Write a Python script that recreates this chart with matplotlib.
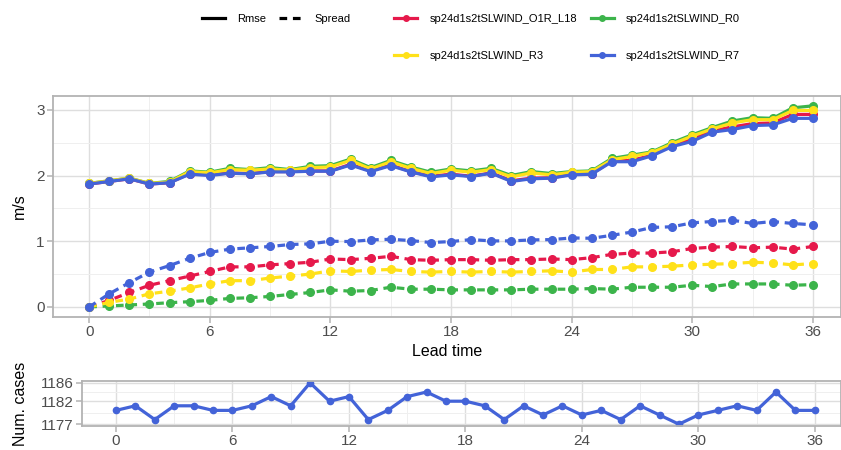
import numpy as np
import matplotlib
matplotlib.use("Agg")
import matplotlib.pyplot as plt
from matplotlib.lines import Line2D

plt.rcParams['font.family'] = ['Liberation Sans', 'DejaVu Sans']

lead = list(range(37))

names = ["sp24d1s2tSLWIND_O1R_L18", "sp24d1s2tSLWIND_R0",
         "sp24d1s2tSLWIND_R3", "sp24d1s2tSLWIND_R7"]
colors = ["#e6194b", "#3cb44b", "#ffe119", "#4363d8"]

rmse_o1r = [1.87, 1.91, 1.95, 1.87, 1.89, 2.03, 2.01, 2.04, 2.03, 2.06, 2.06, 2.07, 2.07,
            2.17, 2.07, 2.16, 2.06, 1.99, 2.02, 1.99, 2.04, 1.92, 1.96, 1.965, 2.02, 2.025,
            2.22, 2.23, 2.31, 2.46, 2.55, 2.68, 2.74, 2.79, 2.80, 2.93, 2.93]
rmse_r0 = [1.88, 1.92, 1.96, 1.88, 1.91, 2.07, 2.05, 2.11, 2.09, 2.12, 2.09, 2.14, 2.15,
           2.25, 2.12, 2.23, 2.13, 2.05, 2.10, 2.07, 2.11, 2.00, 2.06, 2.03, 2.06, 2.07,
           2.26, 2.31, 2.36, 2.50, 2.62, 2.73, 2.83, 2.88, 2.87, 3.03, 3.06]
rmse_r3 = [1.88, 1.92, 1.96, 1.88, 1.90, 2.06, 2.04, 2.09, 2.08, 2.10, 2.08, 2.12, 2.13,
           2.23, 2.10, 2.21, 2.11, 2.03, 2.08, 2.05, 2.09, 1.98, 2.04, 2.01, 2.05, 2.06,
           2.24, 2.29, 2.35, 2.48, 2.60, 2.71, 2.80, 2.85, 2.85, 2.99, 2.99]
rmse_r7 = [1.87, 1.91, 1.95, 1.87, 1.89, 2.02, 2.00, 2.035, 2.025, 2.055, 2.055, 2.065, 2.065,
           2.16, 2.06, 2.15, 2.055, 1.98, 2.01, 1.985, 2.035, 1.91, 1.95, 1.96, 2.01, 2.02,
           2.21, 2.21, 2.30, 2.44, 2.52, 2.66, 2.70, 2.76, 2.77, 2.87, 2.87]

spread_o1r = [0.0, 0.10, 0.22, 0.33, 0.40, 0.47, 0.54, 0.61, 0.61, 0.64, 0.66, 0.68, 0.73,
              0.72, 0.74, 0.77, 0.72, 0.71, 0.72, 0.72, 0.71, 0.72, 0.72, 0.73, 0.72, 0.75,
              0.80, 0.82, 0.82, 0.84, 0.89, 0.91, 0.92, 0.90, 0.91, 0.88, 0.92]
spread_r0 = [0.0, 0.015, 0.03, 0.045, 0.065, 0.08, 0.10, 0.13, 0.14, 0.16, 0.19, 0.22, 0.26,
             0.24, 0.25, 0.30, 0.27, 0.27, 0.26, 0.26, 0.26, 0.26, 0.27, 0.27, 0.27, 0.28,
             0.27, 0.30, 0.30, 0.30, 0.33, 0.31, 0.35, 0.35, 0.35, 0.33, 0.34]
spread_r3 = [0.0, 0.07, 0.12, 0.20, 0.24, 0.29, 0.35, 0.40, 0.40, 0.44, 0.47, 0.50, 0.55,
             0.54, 0.56, 0.57, 0.54, 0.53, 0.54, 0.53, 0.54, 0.53, 0.54, 0.55, 0.53, 0.57,
             0.57, 0.61, 0.61, 0.62, 0.64, 0.65, 0.66, 0.68, 0.67, 0.64, 0.66]
spread_r7 = [0.0, 0.20, 0.37, 0.53, 0.63, 0.74, 0.83, 0.88, 0.90, 0.92, 0.95, 0.96, 1.00,
             0.995, 1.02, 1.03, 1.01, 0.98, 0.995, 1.025, 1.005, 1.005, 1.02, 1.025, 1.05, 1.045,
             1.09, 1.14, 1.21, 1.22, 1.28, 1.30, 1.32, 1.27, 1.30, 1.27, 1.25]

num_cases = [1180, 1181, 1178, 1181, 1181, 1180, 1180, 1181, 1183, 1181, 1186, 1182, 1183,
             1178, 1180, 1183, 1184, 1182, 1182, 1181, 1178, 1181, 1179, 1181, 1179, 1180,
             1178, 1181, 1179, 1177, 1179, 1180, 1181, 1180, 1184, 1180, 1180]

rmse = [rmse_o1r, rmse_r0, rmse_r3, rmse_r7]
spread = [spread_o1r, spread_r0, spread_r3, spread_r7]

W, H = 841, 450
fig = plt.figure(figsize=(W / 100, H / 100), dpi=100)


def px_axes(left, top, right, bottom):
    return fig.add_axes([left / W, 1 - bottom / H, (right - left) / W, (bottom - top) / H])


def style(ax):
    ax.set_facecolor("white")
    for s in ax.spines.values():
        s.set_color("#b3b3b3")
        s.set_linewidth(1.3)
    ax.grid(True, which="major", color="#dedede", linewidth=1.0)
    ax.grid(True, which="minor", color="#efefef", linewidth=0.7)
    ax.set_axisbelow(True)
    ax.tick_params(which="major", colors="#b3b3b3", labelcolor="#4d4d4d",
                   labelsize=11, length=4, width=1.1, pad=2)
    ax.tick_params(which="minor", length=0)


lw = 2.3
ms = 5.5
dash = (0, (2.4, 1.8))

ax = px_axes(53, 96, 841, 317)
style(ax)
for vals, c in zip(rmse, colors):
    ax.plot(lead, vals, color=c, lw=lw, marker="o", ms=ms, solid_capstyle="butt")
for vals, c in zip(spread, colors):
    ax.plot(lead, vals, color=c, lw=lw, marker="o", ms=ms, ls=dash)
ax.set_xlim(-1.8, 37.4)
ax.set_ylim(-0.153, 3.21)
ax.set_xticks(range(0, 37, 6))
ax.set_xticks(range(3, 37, 6), minor=True)
ax.set_yticks([0, 1, 2, 3])
ax.set_yticks([0.5, 1.5, 2.5], minor=True)
ax.set_ylabel("m/s", fontsize=11.5)
ax.yaxis.set_label_coords((27 - 53) / (841 - 53), 0.5)
ax.set_xlabel("Lead time", fontsize=11.5, labelpad=3)

ax2 = px_axes(82, 381, 841, 426)
style(ax2)
ax2.plot(lead, num_cases, color=colors[3], lw=lw, marker="o", ms=4.5)
ax2.set_xlim(-1.75, 37.35)
ax2.set_ylim(1176.6, 1186.4)
ax2.set_xticks(range(0, 37, 6))
ax2.set_xticks(range(3, 37, 6), minor=True)
ax2.set_yticks([1177, 1182, 1186])
ax2.set_yticks([1179.5, 1184], minor=True)
ax2.set_ylabel("Num. cases", fontsize=11.5)
ax2.yaxis.set_label_coords((28 - 82) / (841 - 82), 0.5)

# legends
lt_handles = [Line2D([], [], color="black", lw=lw),
              Line2D([], [], color="black", lw=lw, ls=dash)]
fig.legend(lt_handles, ["Rmse", "Spread"], ncol=2, frameon=False,
           loc="upper left", bbox_to_anchor=(192 / W, 1 - 4 / H),
           fontsize=8, handlelength=2.1, handletextpad=1.1, columnspacing=1.1)

order = [0, 2, 1, 3]
col_handles = [Line2D([], [], color=colors[i], lw=lw, marker="o", ms=4) for i in order]
fig.legend(col_handles, [names[i] for i in order], ncol=2, frameon=False,
           loc="upper left", bbox_to_anchor=(384 / W, 1 - 4 / H),
           fontsize=8, handlelength=2.1, handletextpad=1.1, columnspacing=1.2,
           labelspacing=2.4)

fig.savefig("out.png", dpi=100, facecolor="white")
